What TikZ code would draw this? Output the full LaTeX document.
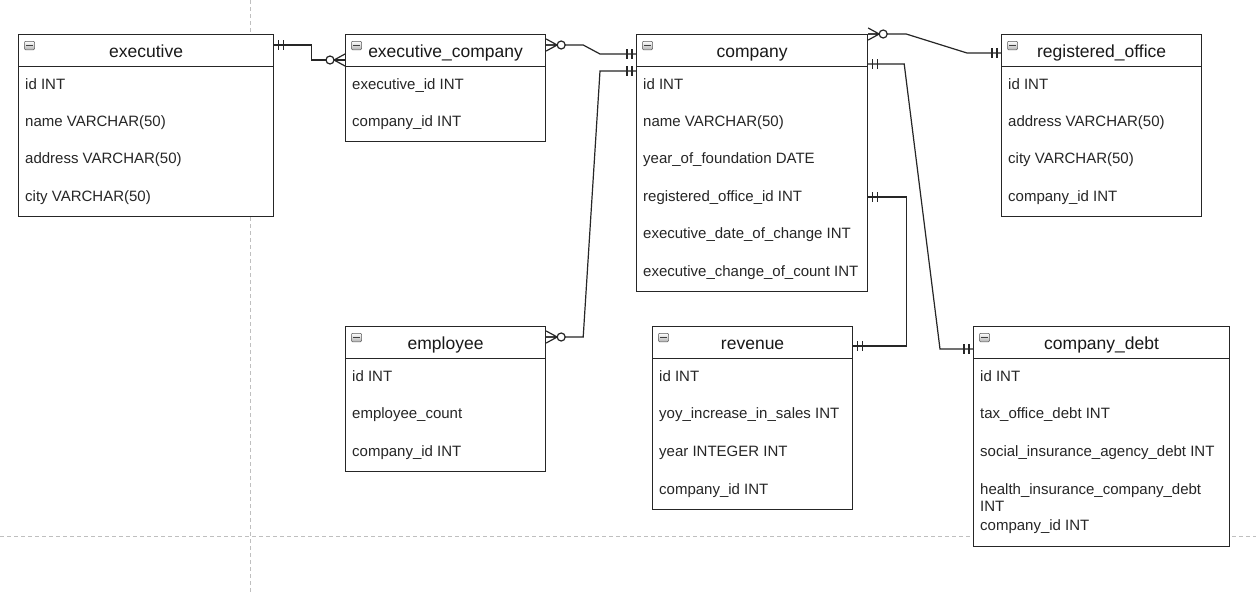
\documentclass[tikz,border=0pt]{standalone}
\usepackage{fontspec}
\setmainfont{Liberation Sans}
\usetikzlibrary{calc}
\tikzset{
  tbox/.style={draw=black!85, line width=1.2pt, fill=white},
  ttl/.style={font=\fontsize{17.5}{20}\selectfont, text=black!90, inner sep=0, anchor=base},
  row/.style={font=\fontsize{15}{17}\selectfont, anchor=base west, inner sep=0, text=black!85},
  conn/.style={draw=black!85, line width=1.2pt},
  guide/.style={draw=black!25, line width=0.8pt, dash pattern=on 4pt off 3pt},
  icon/.style={draw=gray!70!black, line width=0.5pt, rounded corners=1pt, minimum width=10pt, minimum height=8.5pt, inner sep=0, top color=white, bottom color=gray!60},
  icminus/.style={draw=black!75, line width=1.6pt}
}
\newcommand{\erhead}[6]{%
  \node[tbox, anchor=north west, minimum width=#4pt, minimum height=#5pt, inner sep=0] (#1) at (#2,#3) {};
  \draw[tbox] ($(#1.north west)+(0,32.5)$) -- ($(#1.north east)+(0,32.5)$);
  \node[ttl] (#1-t) at ($(#1.north)+(0,23)$) {#6};
  \node[icon] (#1-i) at ($(#1.north west)+(11.5,11.5)$) {};
  \draw[icminus] ($(#1-i.center)+(-3.5,0)$) -- ($(#1-i.center)+(3.5,0)$);
}
\newcommand{\errow}[4]{\node[row] (#1-#2) at ($(#1.north west)+(7,#3)$) {#4};}
% mandatory one: #1 point on box edge, #2 = 1 if box lies right of point, -1 if left
\newcommand{\mone}[2]{%
  \begin{scope}[shift={#1}, xscale=#2]
    \draw[conn] (-4,-5) -- (-4,5) (-9,-5) -- (-9,5);
  \end{scope}}
% zero or many
\newcommand{\zmany}[2]{%
  \begin{scope}[shift={#1}, xscale=#2]
    \draw[conn] (-11,0) -- (0,-6) (-11,0) -- (0,6) (-11,0) -- (0,0);
    \draw[conn, fill=white] (-15,0) circle (4);
  \end{scope}}
\begin{document}
\begin{tikzpicture}[x=1pt, y=-1pt]
\path[use as bounding box] (0,0) rectangle (1256,592);
\fill[white] (0,0) rectangle (1256,592);
% guides
\draw[guide] (250,0) -- (250,592);
\draw[guide] (0,536) -- (1256,536);

% tables
\erhead{exec}{18}{34}{255}{182}{executive}
\errow{exec}{1}{55}{id INT}
\errow{exec}{2}{92}{name VARCHAR(50)}
\errow{exec}{3}{129.5}{address VARCHAR(50)}
\errow{exec}{4}{167}{city VARCHAR(50)}

\erhead{exco}{345}{34}{200}{107}{executive\_company}
\errow{exco}{1}{55}{executive\_id INT}
\errow{exco}{2}{92}{company\_id INT}

\erhead{comp}{636}{34}{231}{257}{company}
\errow{comp}{1}{55}{id INT}
\errow{comp}{2}{92}{name VARCHAR(50)}
\errow{comp}{3}{129.5}{year\_of\_foundation DATE}
\errow{comp}{4}{167}{registered\_office\_id INT}
\errow{comp}{5}{204.5}{executive\_date\_of\_change INT}
\errow{comp}{6}{242}{executive\_change\_of\_count INT}

\erhead{reg}{1001}{34}{200}{182}{registered\_office}
\errow{reg}{1}{55}{id INT}
\errow{reg}{2}{92}{address VARCHAR(50)}
\errow{reg}{3}{129.5}{city VARCHAR(50)}
\errow{reg}{4}{167}{company\_id INT}

\erhead{emp}{345}{326}{200}{145}{employee}
\errow{emp}{1}{55}{id INT}
\errow{emp}{2}{92.5}{employee\_count}
\errow{emp}{3}{130}{company\_id INT}

\erhead{rev}{652}{326}{200}{183}{revenue}
\errow{rev}{1}{55}{id INT}
\errow{rev}{2}{92.5}{yoy\_increase\_in\_sales INT}
\errow{rev}{3}{130}{year INTEGER INT}
\errow{rev}{4}{168}{company\_id INT}

\erhead{debt}{973}{326}{256}{220}{company\_debt}
\errow{debt}{1}{55}{id INT}
\errow{debt}{2}{92.5}{tax\_office\_debt INT}
\errow{debt}{3}{130}{social\_insurance\_agency\_debt INT}
\errow{debt}{4}{168}{health\_insurance\_company\_debt}
\errow{debt}{5}{185}{INT}
\errow{debt}{6}{204}{company\_id INT}

% connector anchors
\coordinate (c1a) at ($(exec.north east)+(0,11)$);
\coordinate (c1b) at ($(exco.north west)+(0,26)$);
\coordinate (c2a) at ($(exco.north east)+(0,11)$);
\coordinate (c2b) at ($(comp.north west)+(0,20)$);
\coordinate (c3a) at ($(emp.north east)+(0,11)$);
\coordinate (c3b) at ($(comp.north west)+(0,37)$);
\coordinate (c4a) at (comp.north east);
\coordinate (c4b) at ($(reg.north west)+(0,19)$);
\coordinate (c5a) at ($(comp.north east)+(0,30)$);
\coordinate (c5b) at ($(debt.north west)+(0,23)$);
\coordinate (c6a) at ($(comp.north east)+(0,163)$);
\coordinate (c6b) at ($(rev.north east)+(0,20)$);

% connectors
\draw[conn] (c1a) -- ++(37,0) |- (c1b);
\draw[conn] (c2a) -- ++(37,0) -- ($(c2b)+(-36,0)$) -- (c2b);
\draw[conn] (c3a) -- ++(37,0) -- ($(c3b)+(-36,0)$) -- (c3b);
\draw[conn] (c4a) -- ++(38,0) -- ($(c4b)+(-34,0)$) -- (c4b);
\draw[conn] (c5a) -- ++(36,0) -- ($(c5b)+(-33,0)$) -- (c5b);
\draw[conn] (c6a) -- ++(38,0) |- (c6b);

% end marks
\mone{(c1a)}{-1}
\zmany{(c1b)}{1}
\zmany{(c2a)}{-1}
\mone{(c2b)}{1}
\zmany{(c3a)}{-1}
\mone{(c3b)}{1}
\zmany{(c4a)}{-1}
\mone{(c4b)}{1}
\mone{(c5a)}{-1}
\mone{(c5b)}{1}
\mone{(c6a)}{-1}
\mone{(c6b)}{-1}
\end{tikzpicture}
\end{document}
